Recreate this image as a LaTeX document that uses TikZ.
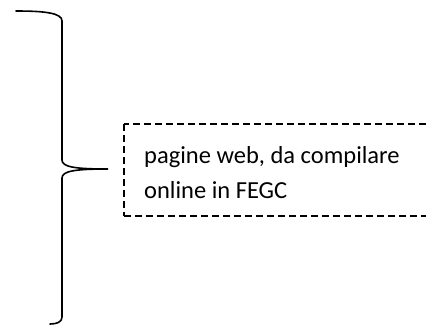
\documentclass[tikz,border=0pt]{standalone}
\usepackage{fontspec}
\setmainfont{Carlito}
\begin{document}
\begin{tikzpicture}[x=1pt,y=-1pt,
  bracestyle/.style={line width=1.6pt,line cap=round},
  boxline/.style={line width=1.2pt,dash pattern=on 7pt off 4pt},
  label/.style={inner sep=0pt,align=left,font=\fontsize{24.5}{35}\selectfont}]
\useasboundingbox (0,0) rectangle (430,325);
\coordinate (btop) at (16,11);
\coordinate (btip) at (108,169);
\coordinate (bbot) at (50,324);
\draw[bracestyle] (btop) .. controls (45,11) and (62,13) .. (62,21) -- (62,160)
  .. controls (62,167) and (75,169) .. (btip)
  .. controls (75,169) and (62,171) .. (62,178) -- (62,317)
  .. controls (62,322) and (57,324) .. (bbot);
\coordinate (tl) at (124,124);
\coordinate (tr) at (426,124);
\coordinate (bl) at (124,216);
\coordinate (br) at (426,216);
\draw[boxline] (tr) -- (tl);
\draw[boxline] (tl) -- (bl);
\draw[boxline] (bl) -- (br);
\node[label,anchor=base west] (txt) at (144,198) {pagine web, da compilare\\online in FEGC};
\end{tikzpicture}
\end{document}
